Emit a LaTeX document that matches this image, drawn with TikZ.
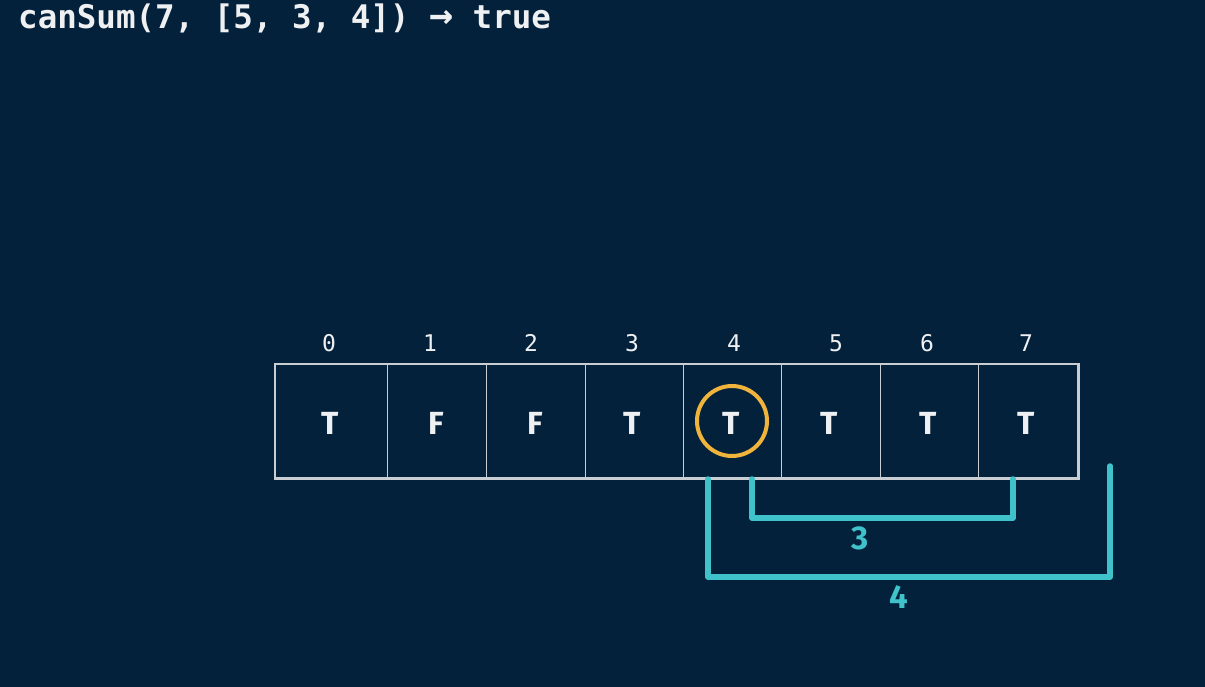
\documentclass[tikz,border=0pt]{standalone}
\usepackage{fontspec}
\setmainfont{Fira Sans}
\newfontfamily\monofont{DejaVu Sans Mono}
\newfontfamily\cellfont{Fira Sans}
\definecolor{bg}{HTML}{04213B}
\definecolor{grid}{HTML}{C9CED3}
\definecolor{gold}{HTML}{F0B43C}
\definecolor{teal}{HTML}{3FC2CA}
\definecolor{txt}{HTML}{EEF0F2}
\begin{document}
\begin{tikzpicture}[x=1pt,y=-1pt,
  idx/.style={text=txt,font=\monofont\fontsize{23}{23}\selectfont,anchor=center},
  val/.style={text=txt,font=\cellfont\bfseries\fontsize{32}{32}\selectfont,anchor=center},
  bracket/.style={draw=teal,line width=5.5pt,line cap=round,line join=round},
  blabel/.style={text=teal,font=\cellfont\bfseries\fontsize{33}{33}\selectfont,anchor=center}]
\fill[bg] (0,0) rectangle (1205,687);
\useasboundingbox (0,0) rectangle (1205,687);
\node[anchor=west,text=txt,font=\monofont\bfseries\fontsize{32.5}{32.5}\selectfont,inner sep=0pt] (title) at (18,18) {canSum(7, [5, 3, 4]) {\fontsize{40}{40}\selectfont→} true};
% cells
\foreach \xl/\xr/\i in {275/387/0,387/486/1,486/585/2,585/683/3,683/781/4,781/880/5,880/978/6,978/1077/7}{
  \node[draw=grid,line width=1.3pt,minimum width={\xr-\xl},minimum height=113pt,inner sep=0pt,anchor=north west] (c\i) at (\xl,364) {};
}
\draw[grid,line width=2.6pt] (c0.north west) rectangle (c7.south east);
\foreach \i/\x/\lx/\v in {0/330/329/T,1/436/430/F,2/535/531/F,3/632/632/T,4/731/734/T,5/829/836/T,6/928/927/T,7/1026/1026/T}{
  \node[val] (v\i) at (\x,423) {\v};
  \node[idx] (i\i) at (\lx,343) {\i};
}
\node[draw=gold,line width=4pt,circle,minimum size=70pt,inner sep=0pt] (ring) at (732,421) {};
% brackets
\coordinate (a1) at (752,479);
\coordinate (a2) at (752,518);
\coordinate (a3) at (1013,518);
\coordinate (a4) at (1013,479);
\draw[bracket] (a1) -- (a2) -- (a3) -- (a4);
\node[blabel] (l3) at (860,538) {3};
\coordinate (b1) at (708,479);
\coordinate (b2) at (708,577);
\coordinate (b3) at (1110,577);
\coordinate (b4) at (1110,466);
\draw[bracket] (b1) -- (b2) -- (b3) -- (b4);
\node[blabel] (l4) at (899,597) {4};
\end{tikzpicture}
\end{document}
